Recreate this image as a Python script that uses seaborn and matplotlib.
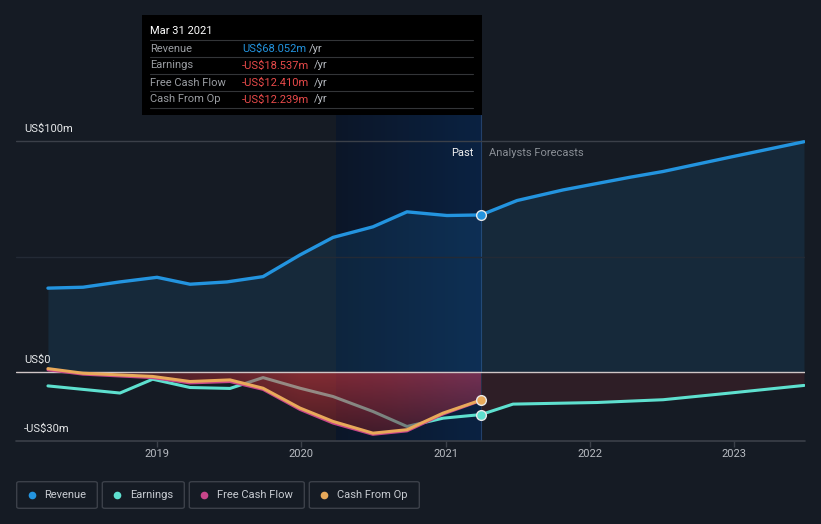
import numpy as np
import pandas as pd
import matplotlib
matplotlib.use("Agg")
import matplotlib.pyplot as plt
import seaborn as sns
from matplotlib.patches import Rectangle, FancyBboxPatch
from matplotlib.lines import Line2D

# ------------------------------------------------------------------ data
# decimal years, values in US$m
REV_T = [2018.244, 2018.487, 2018.743, 2019.0, 2019.229, 2019.485, 2019.735, 2019.991,
         2020.22, 2020.497, 2020.733, 2021.01, 2021.246, 2021.496, 2021.815, 2022.279,
         2022.508, 2022.972, 2023.485]
REV_V = [36.3, 36.7, 39.0, 41.0, 38.0, 39.0, 41.3, 50.7,
         58.3, 62.9, 69.4, 67.8, 68.05, 74.3, 78.9, 84.4,
         86.9, 93.1, 99.8]

EARN_T = [2018.244, 2018.743, 2018.97, 2019.229, 2019.506, 2019.735, 2019.991, 2020.22,
          2020.497, 2020.733, 2020.983, 2021.246, 2021.468, 2022.05, 2022.508, 2022.972,
          2023.485]
EARN_V = [-6.1, -9.2, -3.2, -6.8, -7.2, -2.5, -7.1, -10.7,
          -17.2, -23.7, -20.1, -18.537, -14.0, -13.3, -12.1, -9.2,
          -5.9]

CF_T = [2018.244, 2018.487, 2018.97, 2019.229, 2019.506, 2019.735, 2019.991, 2020.22,
        2020.497, 2020.733, 2020.983, 2021.246]
FCF_V = [0.9, -1.0, -2.5, -4.8, -4.2, -7.6, -16.3, -22.2, -27.1, -25.6, -18.3, -12.41]
CFO_V = [1.4, -0.6, -2.0, -4.2, -3.5, -7.1, -15.7, -21.5, -26.6, -25.1, -17.9, -12.239]

YEARS = [2019, 2020, 2021, 2022, 2023]
PAST_END = 2021.246
BAND_START = 2020.24

C_BG = "#151b24"
C_REV = "#2394df"
C_EARN = "#5ee0cf"
C_FCF = "#c8458a"
C_CFO = "#e8a95a"
C_RED = "#e84a4a"

W, H = 821, 524
sns.set_theme(style="dark", rc={"figure.facecolor": C_BG, "axes.facecolor": C_BG})
plt.rcParams["font.family"] = ["Roboto", "DejaVu Sans"]

fig = plt.figure(figsize=(W / 100, H / 100), dpi=100)
ax = fig.add_axes([16 / W, (H - 441) / H, (805 - 16) / W, (441 - 115) / H])
XL = (2018.0225, 2023.492)
YL = (-30, 111.4)
ax.set_facecolor(C_BG)
for s in ax.spines.values():
    s.set_visible(False)


def fx(x):
    return x / W


def fy(y):
    return 1 - y / H


# highlight band (last year of past data) - horizontal gradient
grad = np.linspace(0, 1, 200)
c0 = np.array([12, 22, 40]) / 255
c1 = np.array([10, 34, 66]) / 255
band = (c0[None, :] * (1 - grad[:, None]) + c1[None, :] * grad[:, None])[None, :, :]
ax.imshow(band, extent=[BAND_START, PAST_END, YL[0], YL[1]], aspect="auto", zorder=0.5)
ax.axvline(PAST_END, color="#23406a", lw=0.8, zorder=0.6)

# revenue area
ax.fill_between(REV_T, 0, REV_V, color=C_REV, alpha=0.12, lw=0, zorder=1)

# forecast earnings area (dark maroon)
ft = [t for t in EARN_T if t >= PAST_END]
fv = [v for t, v in zip(EARN_T, EARN_V) if t >= PAST_END]
ax.fill_between(ft, 0, fv, color="#2e1e26", lw=0, zorder=1)

# gridlines
ax.axhline(100, color="#3b4049", lw=1, zorder=1.5)
ax.axhline(50, color="#232a35", lw=1, zorder=1.5)
ax.axhline(-30, color="#3b4049", lw=1.2, zorder=1.5, clip_on=False)

# earnings line (partly under the red area)
sns.lineplot(x=EARN_T, y=EARN_V, ax=ax, color=C_EARN, linewidth=2.2, zorder=2)

# red cash-flow area with a 2D gradient, clipped to the fill polygon
poly = ax.fill_between(CF_T, 0, FCF_V, color="none", lw=0)
nx, ny = 300, 100
xs = np.linspace(CF_T[0], PAST_END, nx)
ys = np.linspace(-28, 2, ny)
anchors_t = [CF_T[0], 2019.5, 2020.0, 2020.6, PAST_END]
anchors_c = np.array([[100, 34, 40], [180, 46, 54], [245, 62, 66], [240, 62, 78], [225, 66, 104]]) / 255
col = np.stack([np.interp(xs, anchors_t, anchors_c[:, k]) for k in range(3)], axis=-1)
fac = np.interp(ys, [-27, 0], [0.5, 1.0])
img = col[None, :, :] * fac[:, None, None]
rgba = np.concatenate([img, np.full((ny, nx, 1), 0.5)], axis=-1)
im = ax.imshow(rgba, extent=[xs[0], xs[-1], ys[0], ys[-1]], origin="lower",
               aspect="auto", zorder=2.5)
im.set_clip_path(poly.get_paths()[0], transform=ax.transData)

# zero line
ax.axhline(0, color="#cfc6c6", lw=1, zorder=2.8)

# cash-flow lines and revenue line
sns.lineplot(x=CF_T, y=FCF_V, ax=ax, color=C_FCF, linewidth=2.2, zorder=3)
sns.lineplot(x=CF_T, y=CFO_V, ax=ax, color=C_CFO, linewidth=2.2, zorder=3.2)
sns.lineplot(x=REV_T, y=REV_V, ax=ax, color=C_REV, linewidth=2.4, zorder=3.4)

# markers at the last reported point
for v, c in [(REV_V[REV_T.index(PAST_END)], C_REV),
             (EARN_V[EARN_T.index(PAST_END)], C_EARN),
             (CFO_V[-1], C_CFO)]:
    ax.plot([PAST_END], [v], "o", ms=7, mfc=c, mec="#e8e8e8", mew=1, zorder=5)

ax.set_xlim(*XL)
ax.set_ylim(*YL)
ax.set_xticks(YEARS)
ax.set_xticklabels([str(y) for y in YEARS])
ax.set_yticks([])
ax.tick_params(axis="x", length=4, width=1, color="#3b4049", labelcolor="#b8bcc2",
               labelsize=8, pad=2, bottom=True, direction="out")
ax.grid(False)
ax.set_xlabel("")
ax.set_ylabel("")

# y labels
for txt, y in [("US$100m", 129), ("US$0", 360), ("-US$30m", 429)]:
    fig.text(fx(24), fy(y), txt, color="#e6e8ea", fontsize=8, va="center", ha="left")

fig.text(fx(473), fy(153), "Past", color="#f0f0f0", fontsize=8, va="center", ha="right")
fig.text(fx(489), fy(153), "Analysts Forecasts", color="#8a8f96", fontsize=8,
         va="center", ha="left")

# tooltip
fig.patches.append(Rectangle((fx(142), fy(115)), fx(482) - fx(142), fy(15) - fy(115),
                             transform=fig.transFigure, facecolor="#000000",
                             edgecolor="none", zorder=10))
fig.text(fx(150), fy(31), "Mar 31 2021", color="#ffffff", fontsize=8, va="center",
         ha="left", zorder=11)
for yl in [40, 57.3, 74.3, 91.3, 108.3]:
    fig.lines.append(Line2D([fx(150), fx(473)], [fy(yl), fy(yl)], transform=fig.transFigure,
                            color="#333538", lw=0.8, zorder=11))
rows = [("Revenue", "US$68.052m", C_REV, 48.5, 309),
        ("Earnings", "-US$18.537m", C_RED, 65.5, 314),
        ("Free Cash Flow", "-US$12.410m", C_RED, 82.5, 314),
        ("Cash From Op", "-US$12.239m", C_RED, 99.5, 314)]
for lab, val, c, y, xr in rows:
    fig.text(fx(150), fy(y), lab, color="#9a9da2", fontsize=8, va="center", ha="left", zorder=11)
    fig.text(fx(242), fy(y), val, color=c, fontsize=8, va="center", ha="left", zorder=11)
    fig.text(fx(xr), fy(y), "/yr", color="#b8bcc2", fontsize=8, va="center", ha="left", zorder=11)

# legend boxes
legend = [("Revenue", C_REV, 16.7, 97.3),
          ("Earnings", C_EARN, 102.3, 184.3),
          ("Free Cash Flow", C_FCF, 189.3, 304.3),
          ("Cash From Op", C_CFO, 309.3, 419.3)]
for lab, c, x0, x1 in legend:
    fig.patches.append(FancyBboxPatch((fx(x0), fy(508.3)), fx(x1) - fx(x0), fy(481.7) - fy(508.3),
                                      boxstyle="round,pad=0,rounding_size=0.003",
                                      transform=fig.transFigure, facecolor="none",
                                      edgecolor="#3b4049", lw=1))
    fig.lines.append(Line2D([fx(x0 + 15)], [fy(495)], transform=fig.transFigure,
                            marker="o", ms=5.5, mfc=c, mec="none", ls="none"))
    fig.text(fx(x0 + 27.5), fy(495), lab, color="#c8ccd2", fontsize=8, va="center", ha="left")

fig.savefig("out.png", dpi=100, facecolor=C_BG)
